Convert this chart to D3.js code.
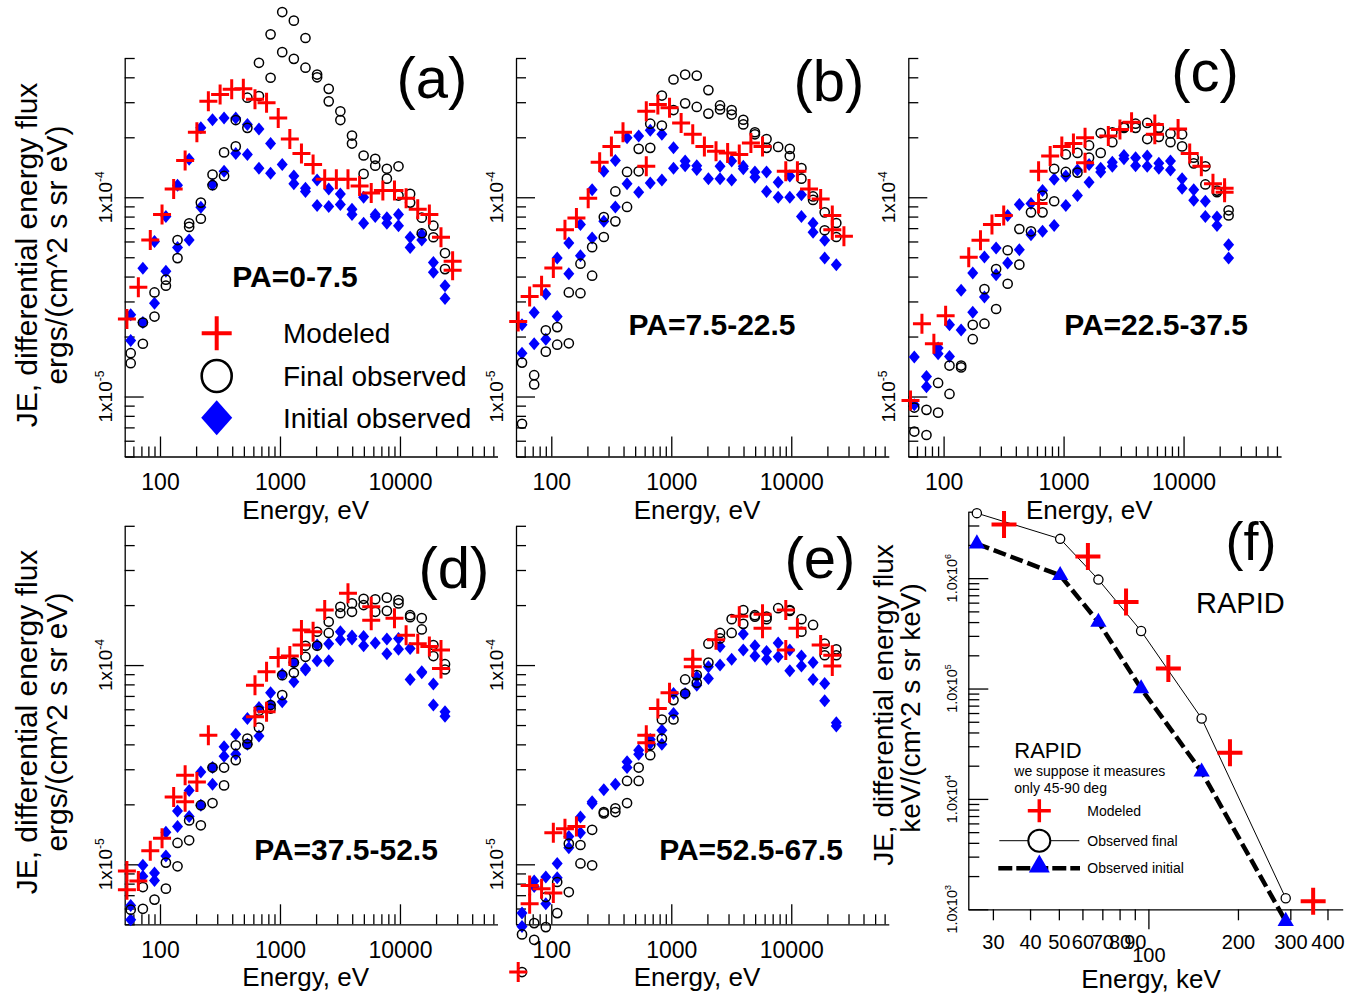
<!DOCTYPE html>
<html>
<head>
<meta charset="utf-8">
<title>JE spectra</title>
<script src="https://cdn.jsdelivr.net/npm/d3@7"></script>
<style>
  body { margin: 0; background: #fff; }
  svg { display: block; }
  text { font-family: 'Liberation Sans', Arial, sans-serif; fill: #000; }
</style>
</head>
<body>
<svg id="chart" width="1357" height="996"></svg>
<script>
// channel energies (eV) of the observed spectra, and of the modeled ones
const energies = [57, 72, 90, 112, 140, 175, 219, 274, 342, 428, 535, 668, 835, 1044, 1305, 1631,
  2039, 2549, 3186, 3983, 4978, 6223, 7779, 9723, 12154, 15193, 18991, 23738]
const modelEnergies = [53, 66, 83, 104, 130, 162, 203, 253, 317, 396, 495, 619, 773, 967, 1208, 1510,
  1888, 2360, 2950, 3687, 4609, 5761, 7202, 9002, 11253, 14066, 17582, 21978, 27472]

// (a) PA=0-7.5
const aInitHi = [2.57e-5, 4.4e-5, 6.0e-5, 8.0e-5, 1.15e-4, 1.55e-4, 2.23e-4, 2.45e-4, 2.5e-4, 2.5e-4, 2.32e-4, 2.2e-4, 1.86e-4, 1.46e-4, 1.28e-4, 1.11e-4, 1.22e-4, 1.1e-4, 1.04e-4, 8.7e-5, 1.0e-4, 8.2e-5, 7.9e-5, 8.2e-5, 6.3e-5, 6.5e-5, 4.7e-5, 3.6e-5]
const aInitLo = [1.91e-5, 2.35e-5, 2.94e-5, 4.25e-5, 5.6e-5, 6.1e-5, 8.9e-5, 1.16e-4, 1.35e-4, 1.66e-4, 1.64e-4, 1.4e-4, 1.32e-4, null, 1.17e-4, 1.07e-4, 9.1e-5, 9.0e-5, 9.2e-5, 8.2e-5, 7.4e-5, 8.0e-5, 7.4e-5, 7.2e-5, 5.6e-5, 6.1e-5, 4.2e-5, 3.1e-5]
const aFinalHi = [1.65e-5, 2.35e-5, 3.33e-5, 3.86e-5, 6.1e-5, 7.4e-5, 9.4e-5, 1.3e-4, 1.68e-4, 2.44e-4, 3.16e-4, 4.73e-4, 6.57e-4, 8.5e-4, 7.7e-4, 6.3e-4, 4.13e-4, 3.5e-4, 2.7e-4, 2.04e-4, 1.62e-4, 1.56e-4, 1.39e-4, 1.43e-4, 1.04e-4, 7.9e-5, 7.2e-5, 5.25e-5]
const aFinalLo = [1.47e-5, 1.84e-5, 2.52e-5, 3.6e-5, 4.95e-5, 7.1e-5, 7.8e-5, 1.15e-4, 1.28e-4, 1.8e-4, 2.23e-4, 3.22e-4, 3.98e-4, 5.35e-4, 4.95e-4, 4.47e-4, 4.0e-4, 3.03e-4, 2.44e-4, 1.86e-4, 1.31e-4, 1.44e-4, 1.24e-4, 1.02e-4, 9.4e-5, 6.6e-5, 6.3e-5, 4.36e-5]
const aModel = [2.45e-5, 3.54e-5, 6.1e-5, 8.2e-5, 1.1e-4, 1.53e-4, 2.12e-4, 3.03e-4, 3.28e-4, 3.48e-4, 3.5e-4, 3.1e-4, 2.98e-4, 2.5e-4, 1.96e-4, 1.66e-4, 1.46e-4, 1.23e-4, 1.23e-4, 1.23e-4, 1.14e-4, 1.05e-4, 1.08e-4, 1.08e-4, 9.9e-5, 8.7e-5, 8.2e-5, 6.3e-5, 4.77e-5]
const aModelExtra = [[28, 4.3e-5]]

// (b) PA=7.5-22.5
const bInitHi = [2.29e-5, 2.64e-5, 3.27e-5, 4.95e-5, 5.9e-5, 7.3e-5, 1.09e-4, 1.35e-4, 1.53e-4, 1.99e-4, 2.03e-4, 2.17e-4, 2.07e-4, 1.77e-4, 1.52e-4, 1.44e-4, 1.24e-4, 1.43e-4, 1.52e-4, 1.43e-4, 1.34e-4, 1.34e-4, 1.19e-4, 1.28e-4, 1.03e-4, 7.4e-5, 6.08e-5, 4.59e-5]
const bInitLo = [1.65e-5, 1.84e-5, 1.94e-5, 2.52e-5, 4.13e-5, 5.09e-5, 6.25e-5, 7.57e-5, 8.94e-5, 1.17e-4, 1.06e-4, 1.18e-4, 1.22e-4, 1.40e-4, 1.44e-4, 1.38e-4, null, 1.24e-4, 1.22e-4, 1.39e-4, 1.26e-4, 1.07e-4, 1.0e-4, 1.0e-4, 8.0e-5, 6.67e-5, 4.95e-5, null]
const bFinalHi = [1.48e-5, 1.28e-5, 2.15e-5, 2.23e-5, 3.33e-5, 4.64e-5, 5.62e-5, 7.96e-5, 1.07e-4, 1.34e-4, 1.75e-4, 2.34e-4, 3.24e-4, 3.90e-4, 4.13e-4, 4.08e-4, 3.45e-4, 2.89e-4, 2.74e-4, 2.45e-4, 2.12e-4, 1.96e-4, 1.79e-4, 1.75e-4, 1.40e-4, 1.01e-4, 8.4e-5, 7.43e-5]
const bFinalLo = [7.3e-6, 1.15e-5, 1.68e-5, 1.82e-5, 1.85e-5, 3.3e-5, 4.04e-5, 6.32e-5, 7.57e-5, 8.94e-5, 1.35e-4, 1.77e-4, 2.29e-4, 2.74e-4, 2.96e-4, 2.84e-4, 2.63e-4, 2.76e-4, 2.60e-4, 2.32e-4, 2.07e-4, 1.77e-4, null, 1.61e-4, 1.24e-4, 9.7e-5, 6.83e-5, 6.32e-5]
const bModel = [2.38e-5, 3.18e-5, 3.6e-5, 4.42e-5, 6.88e-5, 7.87e-5, 9.9e-5, 1.50e-4, 1.80e-4, 2.12e-4, null, 2.70e-4, 2.92e-4, 2.81e-4, 2.36e-4, 2.07e-4, 1.80e-4, 1.70e-4, 1.67e-4, 1.64e-4, 1.87e-4, 1.80e-4, null, 1.35e-4, 1.35e-4, 1.10e-4, 9.8e-5, 8.1e-5, 6.37e-5]
const bModelExtra = [[11, 1.43e-4], [27, 6.88e-5]]

// (c) PA=22.5-37.5
const cInitHi = [1.58e-5, 1.26e-5, 1.75e-5, 2.29e-5, 3.41e-5, 4.17e-5, 5.01e-5, 5.56e-5, 8.1e-5, 9.2e-5, 9.3e-5, 1.08e-4, 1.23e-4, 1.28e-4, 1.37e-4, 1.46e-4, 1.40e-4, 1.50e-4, 1.62e-4, 1.58e-4, 1.61e-4, 1.48e-4, 1.52e-4, 1.24e-4, 1.09e-4, 9.55e-5, 7.96e-5, 5.78e-5]
const cInitLo = [9.1e-6, 1.12e-5, 1.64e-5, 1.59e-5, 2.16e-5, 2.65e-5, 3.16e-5, 4.09e-5, 4.68e-5, 5.46e-5, 6.49e-5, 6.75e-5, 7.21e-5, 9.08e-5, 1.02e-4, 1.19e-4, 1.34e-4, 1.43e-4, 1.56e-4, 1.44e-4, 1.43e-4, 1.40e-4, 1.37e-4, 1.11e-4, 9.66e-5, 8.0e-5, 7.21e-5, 4.95e-5]
const cFinalHi = [8.8e-6, 8.57e-6, 1.17e-5, 1.43e-5, 1.43e-5, 2.29e-5, 3.46e-5, 4.36e-5, 5.42e-5, 6.93e-5, 8.4e-5, 1.02e-4, 1.39e-4, 1.64e-4, 1.67e-4, 1.82e-4, 2.10e-4, 2.12e-4, 2.26e-4, 2.34e-4, 2.36e-4, 2.23e-4, 2.09e-4, 2.07e-4, 1.58e-4, 1.43e-4, 1.08e-4, 8.6e-5]
const cFinalLo = [6.67e-6, 6.41e-6, 8.3e-6, 1.03e-5, 1.40e-5, 1.94e-5, 2.32e-5, 2.75e-5, 3.68e-5, 4.59e-5, 6.75e-5, 8.4e-5, 9.55e-5, 1.34e-4, 1.33e-4, 1.58e-4, 1.67e-4, 1.89e-4, 2.23e-4, 2.23e-4, 1.96e-4, 2.01e-4, 1.89e-4, 1.80e-4, 1.48e-4, 1.16e-4, 1.06e-4, 8.1e-5]
const cModel = [9.55e-6, 2.32e-5, 1.84e-5, 2.54e-5, null, 5.0e-5, 6.08e-5, 7.3e-5, 8.1e-5, null, null, 1.35e-4, 1.61e-4, 1.80e-4, 1.86e-4, 1.99e-4, null, 2.03e-4, 2.19e-4, 2.38e-4, null, 2.32e-4, null, 2.2e-4, 1.66e-4, 1.43e-4, 1.17e-4, 1.11e-4, null]
const cModelExtra = [[11, 9.3e-5], [15, 1.49e-4], [21, 2.07e-4], [27, 1.06e-4]]

// (d) PA=37.5-52.5
const dInitHi = [6.22e-6, 9.9e-6, 9.05e-6, 1.45e-5, 1.85e-5, 2.35e-5, 2.91e-5, 3.06e-5, 3.89e-5, 4.5e-5, 5.4e-5, 6.12e-5, 7.26e-5, 9.0e-5, 1.03e-4, 9.6e-5, 1.26e-4, 1.28e-4, 1.47e-4, 1.40e-4, 1.39e-4, 1.29e-4, 1.35e-4, 1.36e-4, 1.21e-4, 9.26e-5, 8.03e-5, 5.83e-5]
const dInitLo = [5.27e-6, 8.7e-6, 8.3e-6, 1.10e-5, 1.55e-5, 1.74e-5, 1.98e-5, 2.52e-5, 3.49e-5, 3.57e-5, 4.01e-5, 4.4e-5, 6.3e-5, 6.55e-5, 8.25e-5, 9.44e-5, 1.05e-4, 1.05e-4, 1.34e-4, 1.35e-4, 1.25e-4, null, 1.14e-4, 1.20e-4, 8.47e-5, 9.15e-5, 6.3e-5, 5.54e-5]
const dFinalHi = [5.92e-6, 7.69e-6, 6.65e-6, 1.02e-5, 1.28e-5, 1.66e-5, 1.98e-5, 3.06e-5, 3.06e-5, 3.96e-5, 4.28e-5, 5.9e-5, 6.3e-5, 8.9e-5, 1.03e-4, 1.25e-4, 1.47e-4, 1.65e-4, 1.96e-4, 2.04e-4, 2.15e-4, 2.14e-4, 2.18e-4, 2.12e-4, 1.78e-4, 1.72e-4, 1.26e-4, 1.01e-4]
const dFinalLo = [null, 5.98e-6, null, 7.55e-6, 9.77e-6, 1.32e-5, 1.57e-5, 2.03e-5, 2.49e-5, 3.33e-5, 4.01e-5, 4.86e-5, 6.05e-5, 7.07e-5, 9.15e-5, 1.10e-4, 1.25e-4, 1.45e-4, 1.82e-4, 1.85e-4, 2.0e-4, 1.85e-4, 1.87e-4, 2.04e-4, 1.74e-4, 1.51e-4, 1.11e-4, 9.5e-5]
const dModel = [9.26e-6, 8.25e-6, 1.17e-5, 1.35e-5, 2.18e-5, 2.8e-5, 2.59e-5, 4.45e-5, null, null, null, 7.93e-5, 9.26e-5, 1.09e-4, 1.11e-4, 1.50e-4, 1.47e-4, 1.89e-4, null, 2.29e-4, null, 1.96e-4, null, 1.72e-4, 1.41e-4, 1.28e-4, 1.24e-4, 1.19e-4, null]
const dModelExtra = [[0, 7.46e-6], [5, 2.06e-5], [11, 5.5e-5], [12, 5.83e-5], [15, 1.26e-4], [21, 1.68e-4], [27, 9.6e-5]]

// (e) PA=52.5-67.5
const eInitHi = [5.69e-6, 8.25e-6, 8.64e-6, 1.01e-5, 1.38e-5, 1.73e-5, 2.06e-5, 2.37e-5, 2.52e-5, 3.27e-5, 3.74e-5, 4.23e-5, 4.71e-5, 7.2e-5, 7.2e-5, 8.74e-5, 9.8e-5, 1.24e-4, 1.07e-4, 1.43e-4, 1.25e-4, 1.17e-4, 1.29e-4, 1.19e-4, 1.11e-4, 1.03e-4, 8.09e-5, 5.13e-5]
const eInitLo = [4.88e-6, 7.75e-6, 6.34e-6, 8.57e-6, 1.21e-5, 1.44e-5, 2.02e-5, null, null, 3.06e-5, 3.57e-5, 4.04e-5, 4.01e-5, 5.72e-5, null, 7.93e-5, 8.57e-5, 1.0e-4, null, 1.19e-4, 1.11e-4, 1.07e-4, 1.10e-4, 9.37e-5, 9.9e-5, 8.47e-5, 6.62e-5, 4.94e-5]
const eFinalHi = [4.45e-6, 5.07e-6, 6.85e-6, 8.15e-6, 1.27e-5, 1.25e-5, 1.49e-5, 1.83e-5, 1.91e-5, 2.62e-5, 3.06e-5, 3.96e-5, 5.33e-5, 6.67e-5, 8.47e-5, 8.9e-5, 1.28e-4, 1.45e-4, 1.70e-4, 1.89e-4, 1.78e-4, 1.75e-4, 1.93e-4, 1.89e-4, 1.70e-4, 1.59e-4, 1.28e-4, 1.20e-4]
const eFinalLo = [2.88e-6, 4.18e-6, 4.84e-6, 5.69e-6, 7.26e-6, 1.01e-5, 9.89e-6, 1.80e-5, 1.83e-5, 2.03e-5, 2.62e-5, 3.53e-5, 4.28e-5, 5.33e-5, 7.2e-5, 8.15e-5, 1.03e-4, 1.36e-4, 1.45e-4, 1.61e-4, 1.75e-4, 1.70e-4, null, 1.87e-4, 1.47e-4, null, 1.12e-4, 1.12e-4]
const eModel = [2.88e-6, 7.84e-6, 7.55e-6, 7.18e-6, 1.51e-5, 1.55e-5, null, null, null, null, null, 4.45e-5, 6.05e-5, 7.26e-5, null, 1.07e-4, null, 1.34e-4, null, 1.76e-4, null, 1.80e-4, null, 1.89e-4, 1.53e-4, null, 1.26e-4, 1.12e-4, null]
const eModelExtra = [[1, 6.34e-6], [3, 1.44e-5], [11, 4.07e-5], [15, 9.8e-5], [21, 1.53e-4], [23, 1.19e-4], [27, 9.9e-5]]

// (f) RAPID, keV
const rapidObsEnergies = [26.5, 50.5, 67.9, 94.5, 151, 289.5]
const rapidFinal = [3.88e6, 2.27e6, 9.7e5, 3.32e5, 5.36e4, 1.26e3]
const rapidInitial = [2.05e6, 1.06e6, 4.0e5, 1.0e5, 1.76e4, 7.8e2]
const rapidModelEnergies = [32.7, 62.6, 84.1, 116.7, 188, 358]
const rapidModel = [3.06e6, 1.57e6, 6.07e5, 1.52e5, 2.62e4, 1.18e3]

const eVDomain = [50.8, 65000]
const jeDomain = [5e-6, 5e-4]
const keVDomain = [24.8, 450]
const rapidDomain = [1e3, 4e6]

const svg = d3.select('#chart')
const FONT = "'Liberation Sans', Arial, sans-serif"
const RED = '#ff0000'
const BLUE = '#0000ff'

const isDecade = v => Math.abs(Math.log10(v) - Math.round(Math.log10(v))) < 1e-6
const plusPath = (w, h) => `M${-w},0H${w}M0,${-h}V${h}`
const diamondPath = (w, h) => `M0,${-h}L${w},0L0,${h}L${-w},0Z`
const pairs = (vals, es) => vals.map((v, i) => [es[i], v]).filter(d => d[1] != null)

function styleAxis (g) {
  g.select('.domain').attr('stroke', '#000').attr('stroke-width', 1.3)
  g.selectAll('.tick line').attr('stroke', '#000').attr('stroke-width', 1.3)
  g.selectAll('.tick text').attr('font-family', FONT).attr('fill', '#000')
}

function rotatedTitle (g, x, y, size, str) {
  g.append('text')
    .attr('transform', `translate(${x},${y}) rotate(-90)`)
    .attr('text-anchor', 'middle')
    .attr('font-size', size)
    .text(str)
}

const panels = [
  { id: 'a', left: 124.7, bottom: 456.5, letter: '(a)', letterX: 432, letterY: 98, pa: 'PA=0-7.5', paX: 295, paY: 287, titleY: 255,
    init: [aInitHi, aInitLo], fin: [aFinalHi, aFinalLo], model: aModel, extra: aModelExtra },
  { id: 'b', left: 516, bottom: 456.5, letter: '(b)', letterX: 829, letterY: 101, pa: 'PA=7.5-22.5', paX: 712, paY: 335,
    init: [bInitHi, bInitLo], fin: [bFinalHi, bFinalLo], model: bModel, extra: bModelExtra },
  { id: 'c', left: 908.3, bottom: 456.5, letter: '(c)', letterX: 1205, letterY: 91, pa: 'PA=22.5-37.5', paX: 1156, paY: 335,
    init: [cInitHi, cInitLo], fin: [cFinalHi, cFinalLo], model: cModel, extra: cModelExtra },
  { id: 'd', left: 124.7, bottom: 924.3, letter: '(d)', letterX: 454, letterY: 588, pa: 'PA=37.5-52.5', paX: 346, paY: 860, titleY: 722,
    init: [dInitHi, dInitLo], fin: [dFinalHi, dFinalLo], model: dModel, extra: dModelExtra },
  { id: 'e', left: 516, bottom: 924.3, letter: '(e)', letterX: 820, letterY: 578, pa: 'PA=52.5-67.5', paX: 751, paY: 860,
    init: [eInitHi, eInitLo], fin: [eFinalHi, eFinalLo], model: eModel, extra: eModelExtra }
]

function drawPanel (p) {
  const g = svg.append('g').attr('class', 'panel-' + p.id)
  const x = d3.scaleLog().domain(eVDomain).range([p.left, p.left + 372.8])
  const y = d3.scaleLog().domain(jeDomain).range([p.bottom, p.bottom - 398.5])

  // x axis, ticks pointing up into the plot
  const xAxis = d3.axisBottom(x)
    .tickValues(x.ticks().filter(v => v >= eVDomain[0] && v <= eVDomain[1]))
    .tickSizeInner(-10).tickSizeOuter(0).tickPadding(17)
    .tickFormat(v => isDecade(v) ? String(v) : '')
  const gx = g.append('g').attr('transform', `translate(0,${p.bottom})`).call(xAxis)
  styleAxis(gx)
  gx.selectAll('.tick line').filter(isDecade).attr('y2', -20)
  gx.selectAll('.tick text').attr('font-size', 23)

  // y axis, ticks pointing right
  const yAxis = d3.axisLeft(y)
    .tickValues(y.ticks().filter(v => v >= jeDomain[0] * 0.999 && v <= jeDomain[1] * 1.001))
    .tickSizeInner(-10).tickSizeOuter(0).tickFormat('')
  const gy = g.append('g').attr('transform', `translate(${p.left},0)`).call(yAxis)
  styleAxis(gy)
  gy.selectAll('.tick line').filter(isDecade).attr('x2', 19)

  y.ticks().filter(isDecade).forEach(v => {
    const t = g.append('text')
      .attr('transform', `translate(${p.left - 13},${y(v)}) rotate(-90)`)
      .attr('text-anchor', 'middle')
      .attr('font-size', 19)
    t.append('tspan').text('1x10')
    t.append('tspan').attr('dy', -8).attr('font-size', 12).text(Math.round(Math.log10(v)))
  })

  // axis title
  g.append('text')
    .attr('x', p.left + 181).attr('y', p.bottom + 62)
    .attr('text-anchor', 'middle').attr('font-size', 26)
    .text('Energy, eV')

  if (p.titleY) {
    rotatedTitle(g, 37, p.titleY, 30, 'JE, differential energy flux')
    rotatedTitle(g, 67, p.titleY, 30, 'ergs/(cm^2 s sr eV)')
  }

  // initial observed
  p.init.forEach(vals => {
    g.append('g').selectAll('path').data(pairs(vals, energies)).enter().append('path')
      .attr('d', diamondPath(5.5, 6.5))
      .attr('transform', d => `translate(${x(d[0])},${y(d[1])})`)
      .attr('fill', BLUE)
  })
  // final observed
  p.fin.forEach(vals => {
    g.append('g').selectAll('circle').data(pairs(vals, energies)).enter().append('circle')
      .attr('cx', d => x(d[0])).attr('cy', d => y(d[1])).attr('r', 4.6)
      .attr('fill', 'none').attr('stroke', '#000').attr('stroke-width', 1.5)
  })
  // modeled
  const modelPts = pairs(p.model, modelEnergies).concat(p.extra.map(([i, v]) => [modelEnergies[i], v]))
  g.append('g').selectAll('path').data(modelPts).enter().append('path')
    .attr('d', plusPath(9, 10))
    .attr('transform', d => `translate(${x(d[0])},${y(d[1])})`)
    .attr('stroke', RED).attr('stroke-width', 3).attr('fill', 'none')

  // labels
  g.append('text').attr('x', p.letterX).attr('y', p.letterY)
    .attr('text-anchor', 'middle').attr('font-size', 58).text(p.letter)
  g.append('text').attr('x', p.paX).attr('y', p.paY)
    .attr('text-anchor', 'middle').attr('font-size', 30).attr('font-weight', 'bold').text(p.pa)
}

panels.forEach(drawPanel)

// legend of panel (a)
const leg = svg.append('g').attr('class', 'legend-a')
const legItems = [
  { label: 'Modeled', y: 333.3 },
  { label: 'Final observed', y: 376 },
  { label: 'Initial observed', y: 417.7 }
]
leg.append('path').attr('d', plusPath(15, 17)).attr('transform', `translate(216.7,${legItems[0].y})`)
  .attr('stroke', RED).attr('stroke-width', 4).attr('fill', 'none')
leg.append('ellipse').attr('cx', 216.7).attr('cy', legItems[1].y).attr('rx', 15).attr('ry', 16)
  .attr('fill', 'none').attr('stroke', '#000').attr('stroke-width', 2.6)
leg.append('path').attr('d', diamondPath(15.5, 17.5)).attr('transform', `translate(216.7,${legItems[2].y})`)
  .attr('fill', BLUE)
leg.selectAll('text').data(legItems).enter().append('text')
  .attr('x', 283).attr('y', d => d.y + 10)
  .attr('font-size', 28)
  .text(d => d.label)

// panel (f): RAPID
function drawRapid () {
  const g = svg.append('g').attr('class', 'panel-f')
  const left = 968.3
  const bottom = 909.3
  const x = d3.scaleLog().domain(keVDomain).range([left, 1342.7])
  const y = d3.scaleLog().domain(rapidDomain).range([bottom, 511.7])

  const xAxis = d3.axisBottom(x)
    .tickValues(x.ticks().filter(v => v >= keVDomain[0] && v <= keVDomain[1]))
    .tickSizeInner(11).tickSizeOuter(0).tickPadding(14.5)
    .tickFormat(v => String(v))
  const gx = g.append('g').attr('transform', `translate(0,${bottom})`).call(xAxis)
  styleAxis(gx)
  gx.selectAll('.tick text').attr('font-size', 20)
  gx.selectAll('.tick line').filter(isDecade).attr('y2', 20)
  gx.selectAll('.tick text').filter(isDecade).attr('y', 38.2)

  const yAxis = d3.axisLeft(y)
    .tickValues(y.ticks().filter(v => v >= rapidDomain[0] && v <= rapidDomain[1]))
    .tickSizeInner(-11).tickSizeOuter(0).tickFormat('')
  const gy = g.append('g').attr('transform', `translate(${left},0)`).call(yAxis)
  styleAxis(gy)
  gy.selectAll('.tick line').filter(isDecade).attr('x2', 20)

  y.ticks().filter(isDecade).forEach(v => {
    const t = g.append('text')
      .attr('transform', `translate(${left - 11.6},${y(v)}) rotate(-90)`)
      .attr('text-anchor', 'middle')
      .attr('font-size', 14.5)
    t.append('tspan').text('1.0x10')
    t.append('tspan').attr('dy', -6).attr('font-size', 9).text(Math.round(Math.log10(v)))
  })

  g.append('text').attr('x', 1151).attr('y', 988)
    .attr('text-anchor', 'middle').attr('font-size', 26).text('Energy, keV')
  rotatedTitle(g, 893, 705, 28, 'JE, differential energy flux')
  rotatedTitle(g, 920, 708, 28, 'keV/(cm^2 s sr keV)')

  const line = d3.line().x(d => x(d[0])).y(d => y(d[1]))
  const fin = pairs(rapidFinal, rapidObsEnergies)
  const ini = pairs(rapidInitial, rapidObsEnergies)
  const mod = pairs(rapidModel, rapidModelEnergies)

  g.append('path').datum(fin).attr('d', line)
    .attr('fill', 'none').attr('stroke', '#000').attr('stroke-width', 1)
  g.append('path').datum(ini).attr('d', line)
    .attr('fill', 'none').attr('stroke', '#000').attr('stroke-width', 4.5).attr('stroke-dasharray', '13,5')
  g.append('g').selectAll('circle').data(fin).enter().append('circle')
    .attr('cx', d => x(d[0])).attr('cy', d => y(d[1])).attr('r', 4.6)
    .attr('fill', '#fff').attr('stroke', '#000').attr('stroke-width', 1.3)
  g.append('g').selectAll('path').data(ini).enter().append('path')
    .attr('d', d3.symbol(d3.symbolTriangle, 115)())
    .attr('transform', d => `translate(${x(d[0])},${y(d[1])})`)
    .attr('fill', BLUE)
  g.append('g').selectAll('path').data(mod).enter().append('path')
    .attr('d', plusPath(12.5, 13.5))
    .attr('transform', d => `translate(${x(d[0])},${y(d[1])})`)
    .attr('stroke', RED).attr('stroke-width', 4).attr('fill', 'none')

  g.append('text').attr('x', 1251).attr('y', 560)
    .attr('text-anchor', 'middle').attr('font-size', 54).text('(f)')
  g.append('text').attr('x', 1196).attr('y', 613).attr('font-size', 29).text('RAPID')

  // legend
  g.append('text').attr('x', 1014.3).attr('y', 758.3).attr('font-size', 22).text('RAPID')
  g.append('text').attr('x', 1014.3).attr('y', 776).attr('font-size', 14).text('we suppose it measures')
  g.append('text').attr('x', 1014.3).attr('y', 793.3).attr('font-size', 14).text('only 45-90 deg')
  g.append('path').attr('d', plusPath(11.5, 11.5)).attr('transform', 'translate(1039.3,810.7)')
    .attr('stroke', RED).attr('stroke-width', 3.5).attr('fill', 'none')
  g.append('line').attr('x1', 999.3).attr('x2', 1079.3).attr('y1', 840.7).attr('y2', 840.7)
    .attr('stroke', '#000').attr('stroke-width', 1)
  g.append('circle').attr('cx', 1039.3).attr('cy', 840.7).attr('r', 11)
    .attr('fill', '#fff').attr('stroke', '#000').attr('stroke-width', 2)
  g.append('line').attr('x1', 998.3).attr('x2', 1080).attr('y1', 868.3).attr('y2', 868.3)
    .attr('stroke', '#000').attr('stroke-width', 4.5).attr('stroke-dasharray', '14,4')
  g.append('path').attr('d', d3.symbol(d3.symbolTriangle, 190)())
    .attr('transform', 'translate(1039.3,866.5)').attr('fill', BLUE)
  const fl = [['Modeled', 815.7], ['Observed final', 845.7], ['Observed initial', 873.3]]
  fl.forEach(([s, yy]) => {
    g.append('text').attr('x', 1087.3).attr('y', yy).attr('font-size', 14).text(s)
  })
}

drawRapid()
</script>
</body>
</html>
